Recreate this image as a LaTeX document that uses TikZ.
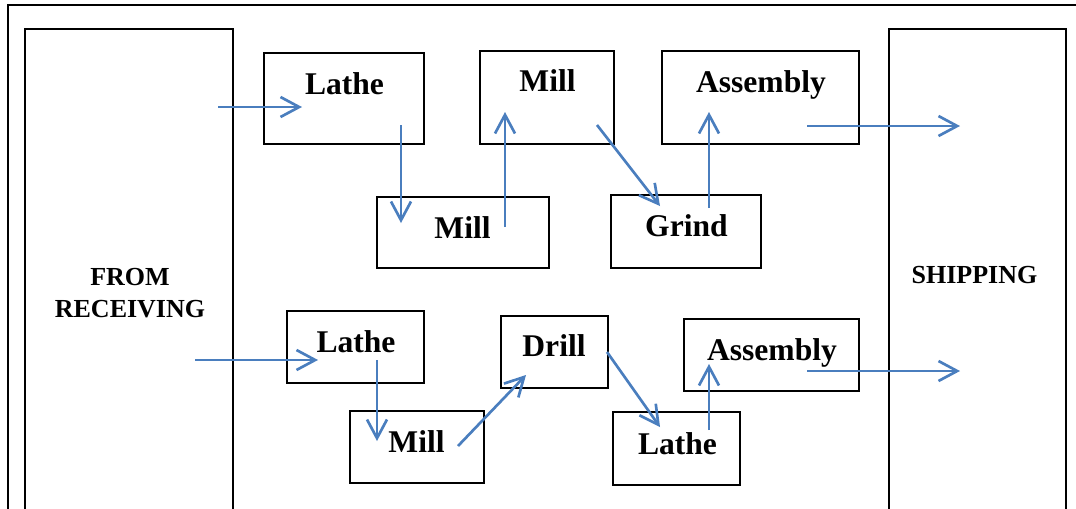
\documentclass[tikz,border=0pt]{standalone}
\usepackage{fontspec}
\setmainfont{Liberation Serif}
\usetikzlibrary{arrows.meta}
\definecolor{flowblue}{RGB}{74,126,190}
\tikzset{
  x=0.75pt, y=-0.75pt,
  frame/.style={draw=black, line width=1.6pt},
  stationbox/.style={draw=black, line width=1.6pt, inner sep=0pt, fill=none},
  stationtext/.style={anchor=base, inner sep=0pt, font=\fontsize{23.7}{28}\selectfont\bfseries},
  areatext/.style={anchor=base, inner sep=0pt, font=\fontsize{19.5}{23}\selectfont\bfseries},
  flow/.style={draw=flowblue, line width=2pt, -{Straight Barb[length=14pt,width=15pt,line width=2pt]}},
}
\begin{document}
\begin{tikzpicture}
\useasboundingbox (0,0) rectangle (1076,508);
\begin{scope}
\clip (0,0) rectangle (1076,508);
% outer frame
\draw[frame] (8,540) -- (8,5) -- (1100,5);
% receiving and shipping areas
\draw[frame] (25,540) -- (25,29) -- (233,29) -- (233,540);
\draw[frame] (889,540) -- (889,29) -- (1066,29) -- (1066,540);
\end{scope}
\node[areatext] (fromt) at (130,285) {FROM};
\node[areatext] (recvt) at (130,317) {RECEIVING};
\node[areatext] (shipt) at (974.5,283) {SHIPPING};

% top line boxes
\node[stationbox, minimum width=120pt,   minimum height=68.25pt] (lathe1) at (344,98.5) {};
\node[stationbox, minimum width=100.5pt, minimum height=69.75pt] (milltop) at (547,97.5) {};
\node[stationbox, minimum width=129pt,   minimum height=53.25pt] (millmid) at (463,232.5) {};
\node[stationbox, minimum width=147.75pt,minimum height=69.75pt] (asmtop) at (760.5,97.5) {};
\node[stationbox, minimum width=112.5pt, minimum height=54.75pt] (grind) at (686,231.5) {};
% bottom line boxes
\node[stationbox, minimum width=102.75pt,minimum height=54pt] (lathe2) at (355.5,347) {};
\node[stationbox, minimum width=100.5pt, minimum height=54pt] (millbot) at (417,447) {};
\node[stationbox, minimum width=80.25pt, minimum height=54pt] (drill) at (554.5,352) {};
\node[stationbox, minimum width=131.25pt,minimum height=54pt] (asmbot) at (771.5,355) {};
\node[stationbox, minimum width=95.25pt, minimum height=54.75pt] (lathe3) at (676.5,448.5) {};

% texts
\node[stationtext] (lathe1t) at (344.5,94) {Lathe};
\node[stationtext] (milltopt) at (547.5,91.7) {Mill};
\node[stationtext] (millmidt) at (462.5,238) {Mill};
\node[stationtext] (asmtopt) at (761,92.7) {Assembly};
\node[stationtext] (grindt) at (686.5,236) {Grind};
\node[stationtext] (lathe2t) at (356,352) {Lathe};
\node[stationtext] (millbott) at (416.5,452) {Mill};
\node[stationtext] (drillt) at (554,356) {Drill};
\node[stationtext] (asmbott) at (772,360) {Assembly};
\node[stationtext] (lathe3t) at (677.5,454) {Lathe};

% arrow end points
\coordinate (inA) at (218,107);
\coordinate (l1in) at (302,107);
\coordinate (l1out) at (401,125);
\coordinate (mmin) at (401,223);
\coordinate (mmout) at (505,227);
\coordinate (mtin) at (505,112);
\coordinate (mtout) at (597,125);
\coordinate (grin) at (660,206);
\coordinate (grout) at (709,208);
\coordinate (atin) at (709,112);
\coordinate (atout) at (807,126);
\coordinate (shipA) at (960,126);

\coordinate (inB) at (195,360);
\coordinate (l2in) at (318,360);
\coordinate (l2out) at (377,360);
\coordinate (mbin) at (377,441);
\coordinate (mbout) at (458,446);
\coordinate (drin) at (526,375);
\coordinate (drout) at (607,352);
\coordinate (l3in) at (660,427);
\coordinate (l3out) at (709,430);
\coordinate (abin) at (709,364);
\coordinate (about) at (807,371);
\coordinate (shipB) at (960,371);

% flows
\draw[flow] (inA) -- (l1in);
\draw[flow] (l1out) -- (mmin);
\draw[flow] (mmout) -- (mtin);
\draw[flow] (mtout) -- (grin);
\draw[flow] (grout) -- (atin);
\draw[flow] (atout) -- (shipA);

\draw[flow] (inB) -- (l2in);
\draw[flow] (l2out) -- (mbin);
\draw[flow] (mbout) -- (drin);
\draw[flow] (drout) -- (l3in);
\draw[flow] (l3out) -- (abin);
\draw[flow] (about) -- (shipB);
\end{tikzpicture}
\end{document}
